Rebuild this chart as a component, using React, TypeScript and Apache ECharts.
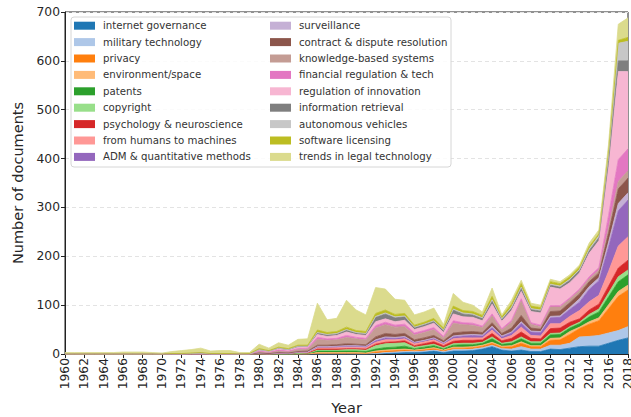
import React, { useEffect, useRef } from "react";
import * as echarts from "echarts";

const years: string[] = [];
for (let y = 1960; y <= 2018; y++) years.push(String(y));

const seriesNames = [
  "internet governance",
  "military technology",
  "privacy",
  "environment/space",
  "patents",
  "copyright",
  "psychology & neuroscience",
  "from humans to machines",
  "ADM & quantitative methods",
  "surveillance",
  "contract & dispute resolution",
  "knowledge-based systems",
  "financial regulation & tech",
  "regulation of innovation",
  "information retrieval",
  "autonomous vehicles",
  "software licensing",
  "trends in legal technology",
];

const colors = [
  "#1f77b4", "#aec7e8", "#ff7f0e", "#ffbb78", "#2ca02c", "#98df8a",
  "#d62728", "#ff9896", "#9467bd", "#c5b0d5", "#8c564b", "#c49c94",
  "#e377c2", "#f7b6d2", "#7f7f7f", "#c7c7c7", "#bcbd22", "#dbdb8d",
];

const Z20 = [0, 0, 0, 0, 0, 0, 0, 0, 0, 0, 0, 0, 0, 0, 0, 0, 0, 0, 0, 0];

// 1960-1979 | 1980-1985 | 1986-2005 | 2006-2018
const internetGovernance = [...Z20, 0, 0, 0, 0, 0, 0,
  0, 0, 0, 0, 0, 0, 0, 1, 2, 3, 3, 4, 6, 3, 6, 6, 7, 10, 15, 8,
  6, 8, 5, 5, 10, 9, 12, 15, 16, 16, 22, 28, 33];
const militaryTechnology = [...Z20, 0, 0, 0, 0, 0, 0,
  0, 0, 0, 0, 0, 0, 1, 2, 2, 2, 2, 2, 2, 2, 3, 3, 3, 3, 3, 3,
  4, 7, 5, 5, 8, 9, 10, 20, 20, 22, 21, 20, 23];
const privacy = [...Z20, 0, 0, 0, 0, 0, 0,
  2, 2, 2, 2, 2, 1, 3, 3, 3, 3, 2, 3, 3, 2, 3, 3, 3, 3, 4, 3,
  5, 7, 5, 5, 10, 11, 18, 17, 25, 30, 50, 70, 75];
const environmentSpace = [...Z20, 0, 0, 0, 0, 0, 0,
  1, 1, 1, 1, 1, 1, 2, 2, 2, 2, 1, 1, 2, 1, 2, 2, 2, 2, 2, 2,
  2, 3, 2, 2, 4, 4, 6, 3, 5, 6, 8, 10, 10];
const patents = [...Z20, 0, 0, 0, 0, 1, 1,
  3, 3, 3, 3, 3, 3, 4, 5, 5, 6, 3, 4, 4, 3, 4, 5, 4, 4, 7, 4,
  5, 6, 5, 5, 7, 7, 7, 7, 10, 12, 16, 20, 21];
const copyright = [...Z20, 0, 0, 0, 0, 0, 0,
  2, 2, 2, 3, 3, 3, 7, 8, 8, 7, 3, 3, 3, 2, 3, 3, 3, 2, 4, 2,
  3, 4, 3, 3, 3, 3, 3, 3, 5, 6, 8, 10, 10];
const psychology = [...Z20, 0, 0, 1, 1, 2, 1,
  2, 2, 2, 2, 2, 2, 3, 3, 3, 4, 3, 4, 5, 4, 5, 6, 6, 5, 7, 5,
  7, 10, 7, 6, 10, 10, 9, 7, 9, 10, 14, 18, 20];
const fromHumans = [...Z20, 1, 0, 1, 0, 1, 1,
  3, 3, 3, 3, 3, 3, 4, 5, 4, 4, 4, 4, 4, 3, 5, 5, 5, 4, 7, 4,
  6, 10, 6, 6, 10, 9, 12, 17, 17, 18, 30, 45, 48];
const admQuant = [...Z20, 0, 0, 0, 0, 0, 1,
  1, 1, 2, 2, 2, 2, 3, 4, 3, 3, 2, 2, 3, 2, 4, 4, 5, 4, 5, 4,
  5, 8, 7, 7, 12, 13, 14, 17, 25, 30, 50, 72, 75];
const surveillance = [...Z20, 0, 0, 0, 0, 0, 0,
  1, 1, 1, 1, 1, 1, 2, 2, 2, 2, 1, 1, 1, 1, 2, 2, 2, 2, 3, 2,
  2, 3, 2, 2, 3, 3, 4, 7, 6, 6, 10, 15, 15];
const contractDispute = [...Z20, 1, 1, 1, 1, 1, 2,
  3, 3, 3, 4, 3, 3, 6, 7, 6, 6, 5, 5, 5, 4, 6, 6, 6, 5, 7, 5,
  8, 13, 6, 5, 10, 10, 10, 10, 10, 10, 20, 30, 30];
const knowledgeBased = [...Z20, 3, 2, 3, 3, 4, 4,
  12, 10, 10, 13, 11, 10, 18, 18, 15, 14, 10, 11, 12, 6, 20, 15, 13, 10, 14, 7,
  12, 30, 8, 5, 9, 8, 7, 7, 6, 6, 10, 15, 15];
const financialReg = [...Z20, 1, 1, 2, 1, 2, 2,
  4, 3, 3, 4, 3, 3, 5, 5, 4, 5, 4, 4, 4, 3, 5, 4, 4, 3, 4, 3,
  4, 4, 3, 3, 3, 3, 3, 3, 4, 5, 25, 45, 45];
const regulationInnovation = [0, 0, 0, 0, 0, 0, 0, 0, 0, 0, 0, 0, 0, 1, 2, 0, 0, 0, 0, 0,
  2, 1, 3, 2, 3, 3,
  6, 5, 6, 7, 6, 6, 8, 7, 7, 8, 7, 8, 9, 8, 14, 12, 12, 11, 20, 15,
  20, 15, 23, 25, 38, 34, 31, 33, 48, 55, 100, 180, 158];
const informationRetrieval = [...Z20, 1, 1, 1, 1, 2, 1,
  3, 3, 3, 4, 3, 3, 9, 10, 8, 7, 4, 4, 4, 4, 8, 6, 5, 5, 7, 4,
  5, 7, 4, 4, 4, 4, 5, 5, 6, 6, 12, 22, 22];
const autonomousVehicles = [...Z20, 0, 0, 0, 0, 0, 0,
  1, 1, 1, 1, 1, 1, 2, 2, 2, 2, 1, 1, 1, 1, 2, 2, 2, 1, 2, 1,
  2, 2, 2, 2, 2, 2, 2, 2, 3, 4, 16, 36, 40];
const softwareLicensing = [0, 0, 0, 0, 0, 0, 0, 0, 0, 0, 0, 1, 1, 1, 1, 1, 1, 1, 0, 1,
  2, 1, 2, 2, 2, 2,
  5, 4, 4, 5, 4, 4, 6, 6, 5, 5, 4, 4, 5, 4, 6, 5, 5, 5, 7, 4,
  6, 7, 5, 5, 5, 5, 5, 5, 5, 4, 6, 6, 8];
const trendsLegalTech = [3, 3, 3, 3, 3, 3, 4, 4, 4, 3, 2, 4, 6, 7, 9, 5, 6, 6, 3, 2,
  9, 5, 9, 7, 12, 13,
  55, 26, 27, 55, 42, 34, 53, 43, 31, 27, 21, 21, 21, 7, 26, 17, 13, 7, 17, 4,
  8, 7, 6, 5, 5, 4, 4, 4, 7, 8, 12, 33, 40];

const seriesValues = [
  internetGovernance, militaryTechnology, privacy, environmentSpace, patents,
  copyright, psychology, fromHumans, admQuant, surveillance, contractDispute,
  knowledgeBased, financialReg, regulationInnovation, informationRetrieval,
  autonomousVehicles, softwareLicensing, trendsLegalTech,
];

const yTicks = { min: 0, max: 700, interval: 100 };

const FONT = "DejaVu Sans";

export default function App() {
  const ref = useRef<HTMLDivElement>(null);
  useEffect(() => {
    if (!ref.current) return;
    const chart = echarts.init(ref.current, undefined, { renderer: "svg", width: 631, height: 417 });
    const legendCommon = {
      orient: "vertical" as const,
      padding: 0,
      itemWidth: 21,
      itemHeight: 8,
      itemGap: 2.4,
      icon: "rect",
      selectedMode: false,
      textStyle: { fontFamily: FONT, fontSize: 10.2, color: "#333", lineHeight: 14, padding: [0, 0, 0, 3] },
    };
    chart.setOption({
      animation: false,
      color: colors,
      textStyle: { fontFamily: FONT },
      grid: {
        left: 65, right: 3, top: 12, bottom: 63,
        containLabel: false,
        outerBoundsMode: "none",
        show: true, borderColor: "#222", borderWidth: 1, backgroundColor: "transparent",
      },
      graphic: [
        {
          type: "rect",
          shape: { x: 71, y: 17, width: 380, height: 150, r: 3 },
          style: { fill: "rgba(255,255,255,0.85)", stroke: "#d6d6d6", lineWidth: 1 },
          z: 5,
        },
      ],
      legend: [
        { ...legendCommon, left: 74, top: 18.7, data: seriesNames.slice(0, 9), z: 10 },
        { ...legendCommon, left: 270, top: 18.7, data: seriesNames.slice(9), z: 10 },
      ],
      xAxis: {
        type: "category",
        data: years,
        boundaryGap: false,
        name: "Year",
        nameLocation: "middle",
        nameGap: 46,
        nameMoveOverlap: false,
        nameTextStyle: { fontFamily: FONT, fontSize: 14.5, color: "#262626" },
        axisLine: { show: true, lineStyle: { color: "#222", width: 1 } },
        axisTick: { show: true, interval: 1, length: 4, lineStyle: { color: "#222" } },
        axisLabel: {
          interval: 1, rotate: 90, fontFamily: FONT, fontSize: 12.3, color: "#262626", margin: 4,
        },
        splitLine: { show: false },
      },
      yAxis: {
        type: "value",
        min: yTicks.min,
        max: yTicks.max,
        interval: yTicks.interval,
        name: "Number of documents",
        nameLocation: "middle",
        nameGap: 40,
        nameMoveOverlap: false,
        nameTextStyle: { fontFamily: FONT, fontSize: 14.5, color: "#262626" },
        axisLine: { show: true, lineStyle: { color: "#222", width: 1 } },
        axisTick: { show: true, length: 4, lineStyle: { color: "#222" } },
        axisLabel: { fontFamily: FONT, fontSize: 12.3, color: "#262626", margin: 5 },
        splitLine: { show: true, lineStyle: { color: "#e3e3e3", type: [4, 3], width: 1 } },
      },
      series: seriesNames.map((name, i) => ({
        name,
        type: "line",
        stack: "total",
        data: seriesValues[i],
        symbol: "none",
        showSymbol: false,
        lineStyle: { width: 0.8, color: colors[i] },
        itemStyle: { color: colors[i] },
        areaStyle: { color: colors[i], opacity: 1 },
        emphasis: { disabled: true },
        z: 2,
      })),
    });
    return () => chart.dispose();
  }, []);
  return (
    <div
      ref={ref}
      style={{ position: "fixed", left: 0, top: 0, width: 631, height: 417, background: "#fff" }}
    />
  );
}
